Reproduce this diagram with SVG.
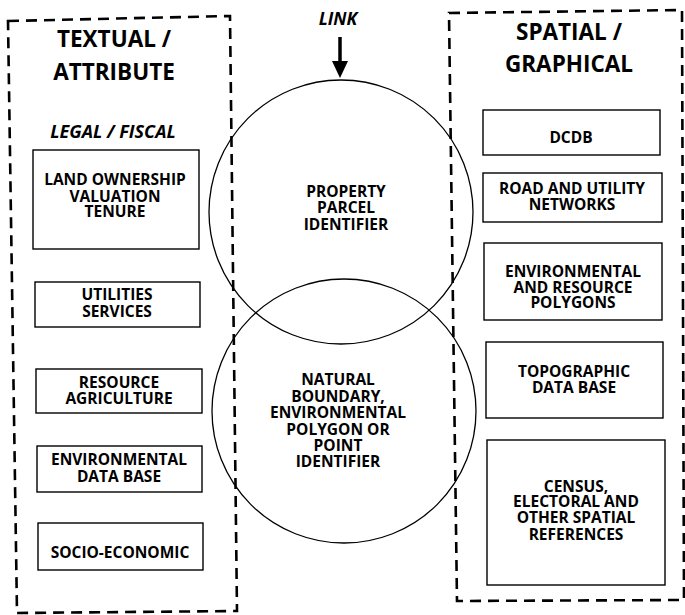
<svg xmlns="http://www.w3.org/2000/svg" width="685" height="615" viewBox="0 0 685 615">
  <style>
    .frame { fill: none; stroke: #000; stroke-width: 2.6; stroke-dasharray: 11 7; }
    .box { fill: none; stroke: #000; stroke-width: 1.4; }
    .ring { fill: none; stroke: #000; stroke-width: 1.3; }
    text { font-family: "Open Sans", "Liberation Sans", sans-serif; font-weight: 700; fill: #000; text-anchor: middle; }
    .title { font-size: 22.5px; }
    .sub { font-size: 18px; font-style: italic; }
    .lbl { font-size: 15.5px; }
  </style>

  <!-- dashed column frames -->
  <g id="textual-frame">
    <path class="frame" d="M8,21 L230,16 L237,611 L17,613 Z"/>
    <text class="title" x="114" y="47">TEXTUAL /</text>
    <text class="title" x="114" y="80">ATTRIBUTE</text>
    <text class="sub" x="113" y="138">LEGAL / FISCAL</text>
  </g>
  <g id="spatial-frame">
    <path class="frame" d="M449,13 L682,10 L684,600 L457,601 Z"/>
    <text class="title" x="569" y="40">SPATIAL /</text>
    <text class="title" x="569" y="72">GRAPHICAL</text>
  </g>

  <!-- linking circles -->
  <g id="link-parcel">
    <circle class="ring" cx="341" cy="212" r="132"/>
    <text class="lbl" x="346" y="197">PROPERTY</text>
    <text class="lbl" x="346" y="213">PARCEL</text>
    <text class="lbl" x="346" y="230">IDENTIFIER</text>
  </g>
  <g id="link-natural">
    <circle class="ring" cx="344" cy="411" r="132"/>
    <text class="lbl" x="338" y="385">NATURAL</text>
    <text class="lbl" x="338" y="402">BOUNDARY,</text>
    <text class="lbl" x="338" y="418">ENVIRONMENTAL</text>
    <text class="lbl" x="338" y="435">POLYGON OR</text>
    <text class="lbl" x="338" y="451">POINT</text>
    <text class="lbl" x="338" y="467">IDENTIFIER</text>
  </g>
  <g id="link-label">
    <text class="sub" x="338" y="25" style="font-size:17.5px">LINK</text>
  </g>

  <!-- textual / attribute boxes -->
  <g id="land">
    <rect class="box" x="33" y="150" width="166" height="99"/>
    <text class="lbl" x="115" y="185">LAND OWNERSHIP</text>
    <text class="lbl" x="115" y="202">VALUATION</text>
    <text class="lbl" x="115" y="217">TENURE</text>
  </g>
  <g id="utilities">
    <rect class="box" x="35" y="282" width="165" height="45"/>
    <text class="lbl" x="117" y="300">UTILITIES</text>
    <text class="lbl" x="117" y="317">SERVICES</text>
  </g>
  <g id="resource">
    <rect class="box" x="36" y="369" width="166" height="44"/>
    <text class="lbl" x="119" y="388">RESOURCE</text>
    <text class="lbl" x="119" y="404">AGRICULTURE</text>
  </g>
  <g id="environmental-db">
    <rect class="box" x="37" y="446" width="165" height="46"/>
    <text class="lbl" x="119" y="465">ENVIRONMENTAL</text>
    <text class="lbl" x="119" y="482">DATA BASE</text>
  </g>
  <g id="socio-economic">
    <rect class="box" x="38" y="523" width="165" height="47"/>
    <text class="lbl" x="120" y="558">SOCIO-ECONOMIC</text>
  </g>

  <!-- spatial / graphical boxes -->
  <g id="dcdb">
    <rect class="box" x="483" y="110" width="177" height="45"/>
    <text class="lbl" x="571" y="143">DCDB</text>
  </g>
  <g id="networks">
    <rect class="box" x="483" y="173" width="179" height="49"/>
    <text class="lbl" x="572" y="194">ROAD AND UTILITY</text>
    <text class="lbl" x="572" y="210">NETWORKS</text>
  </g>
  <g id="polygons">
    <rect class="box" x="484" y="243" width="178" height="77"/>
    <text class="lbl" x="573" y="277">ENVIRONMENTAL</text>
    <text class="lbl" x="573" y="293">AND RESOURCE</text>
    <text class="lbl" x="573" y="308">POLYGONS</text>
  </g>
  <g id="topographic">
    <rect class="box" x="486" y="342" width="177" height="76"/>
    <text class="lbl" x="574" y="377">TOPOGRAPHIC</text>
    <text class="lbl" x="574" y="393">DATA BASE</text>
  </g>
  <g id="census">
    <rect class="box" x="487" y="440" width="178" height="145"/>
    <text class="lbl" x="576" y="492">CENSUS,</text>
    <text class="lbl" x="576" y="507">ELECTORAL AND</text>
    <text class="lbl" x="576" y="523">OTHER SPATIAL</text>
    <text class="lbl" x="576" y="540">REFERENCES</text>
  </g>

  <!-- connector: link arrow into the parcel circle -->
  <g id="connectors">
    <line x1="340" y1="37" x2="340" y2="62" stroke="#000" stroke-width="3.5"/>
    <path d="M332,61 L348,61 L340,78 Z" fill="#000"/>
  </g>
</svg>
